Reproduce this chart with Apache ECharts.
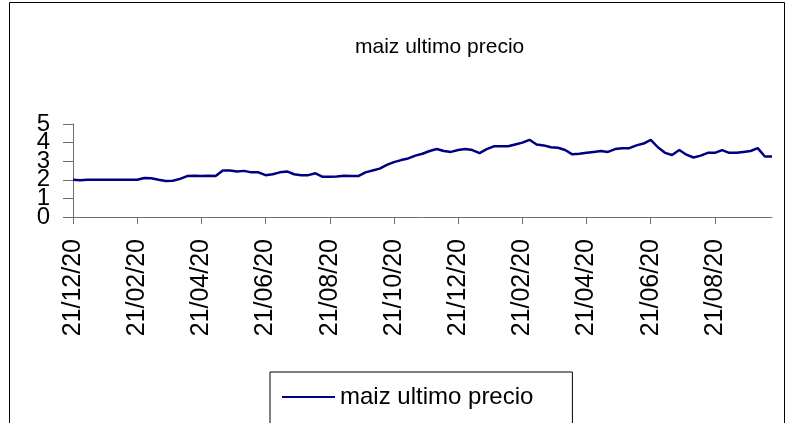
<!DOCTYPE html>
<html>
<head>
	<meta charset="utf-8">
	<title>maiz ultimo precio</title>
    <script src="https://cdn.jsdelivr.net/npm/echarts@6/dist/echarts.min.js"></script>
    <style>
        body { margin: 0; background: #fff; }
    </style>
</head>
<body>
    <div id="main" style="width: 804px;height:423px;"></div>
	<script type="text/javascript">
        // tick labels, one every 9 points (about weekly points)
        const tickLabels = ['21/12/20', '21/02/20', '21/04/20', '21/06/20', '21/08/20', '21/10/20',
            '21/12/20', '21/02/20', '21/04/20', '21/06/20', '21/08/20'];
        const pointsPerTick = 9;

        // price, one block per two months
        const block1 = [2.0, 1.98, 2.0, 2.0, 2.0, 2.0, 2.0, 2.0, 2.0];
        const block2 = [2.0, 2.1, 2.08, 2.0, 1.93, 1.95, 2.05, 2.2, 2.22];
        const block3 = [2.2, 2.22, 2.2, 2.5, 2.5, 2.45, 2.48, 2.4, 2.4];
        const block4 = [2.25, 2.3, 2.4, 2.45, 2.3, 2.25, 2.25, 2.35, 2.16];
        const block5 = [2.16, 2.18, 2.22, 2.2, 2.2, 2.4, 2.5, 2.6, 2.8];
        const block6 = [2.95, 3.06, 3.15, 3.3, 3.4, 3.55, 3.66, 3.55, 3.5];
        const block7 = [3.6, 3.66, 3.6, 3.43, 3.65, 3.8, 3.8, 3.8, 3.9];
        const block8 = [4.0, 4.15, 3.9, 3.85, 3.75, 3.72, 3.6, 3.37, 3.4];
        const block9 = [3.45, 3.5, 3.55, 3.5, 3.65, 3.7, 3.7, 3.85, 3.95];
        const block10 = [4.15, 3.75, 3.45, 3.33, 3.6, 3.35, 3.2, 3.3, 3.45];
        const block11 = [3.45, 3.6, 3.45, 3.45, 3.5, 3.55, 3.7, 3.25, 3.25];

        const prices = [].concat(block1, block2, block3, block4, block5, block6,
            block7, block8, block9, block10, block11);
        const categories = prices.map((e, index) => String(index));

        const myChart = echarts.init(document.getElementById('main'));
        const axisColor = '#6f6f6f';
        const font = 'Liberation Sans, Arial, sans-serif';
        const isTick = (index) => index % pointsPerTick === 0;

        // the y labels overlap each other in the original, so odd and even
        // values go on two stacked axes to keep echarts from hiding any
        function yAxisFor(odd, visibleLine) {
            return {
                type: 'value',
                min: 0,
                max: 5,
                interval: 1,
                position: 'left',
                axisLine: { show: visibleLine, lineStyle: { color: axisColor } },
                axisTick: { show: visibleLine, inside: false, length: 10, lineStyle: { color: axisColor } },
                axisLabel: {
                    margin: 23,
                    fontFamily: font,
                    fontSize: 24,
                    color: '#000',
                    showMinLabel: true,
                    showMaxLabel: true,
                    padding: [0, 0, 9, 0],
                    formatter: (v) => (v % 2 === 1) === odd ? String(v) : ''
                },
                splitLine: { show: false }
            };
        }

        const options = {
            animation: false,
            backgroundColor: '#fff',
            title: {
                text: 'maiz ultimo precio',
                left: 350,
                top: 32,
                textStyle: { fontFamily: font, fontSize: 21, fontWeight: 'normal', color: '#000' }
            },
            legend: {
                data: [{ name: 'maiz ultimo precio', icon: 'rect' }],
                left: 270,
                top: 372,
                padding: [13, 39, 30, 12],
                itemWidth: 53,
                itemHeight: 2,
                borderColor: '#000',
                borderWidth: 1,
                borderRadius: 0,
                textStyle: { fontFamily: font, fontSize: 24, color: '#000' }
            },
            graphic: [{
                type: 'rect',
                shape: { x: 9.5, y: 2.5, width: 775, height: 440 },
                style: { fill: null, stroke: '#000', lineWidth: 1 },
                z: -1
            }],
            grid: { left: 73, right: 32, top: 124, bottom: 206 },
            xAxis: {
                type: 'category',
                data: categories,
                boundaryGap: false,
                axisLine: { lineStyle: { color: axisColor } },
                axisTick: { interval: isTick, length: 7, lineStyle: { color: axisColor } },
                axisLabel: {
                    interval: isTick,
                    rotate: 90,
                    margin: 22,
                    fontFamily: font,
                    fontSize: 25,
                    color: '#000',
                    formatter: (value, index) => tickLabels[index / pointsPerTick]
                },
                splitLine: { show: false }
            },
            yAxis: [yAxisFor(true, true), yAxisFor(false, false)],
            series: [{
                name: 'maiz ultimo precio',
                type: 'line',
                yAxisIndex: 0,
                data: prices,
                showSymbol: false,
                color: '#000080',
                lineStyle: { color: '#000080', width: 2.5 }
            }]
        };

        myChart.setOption(options);
	</script>
</body>
</html>
